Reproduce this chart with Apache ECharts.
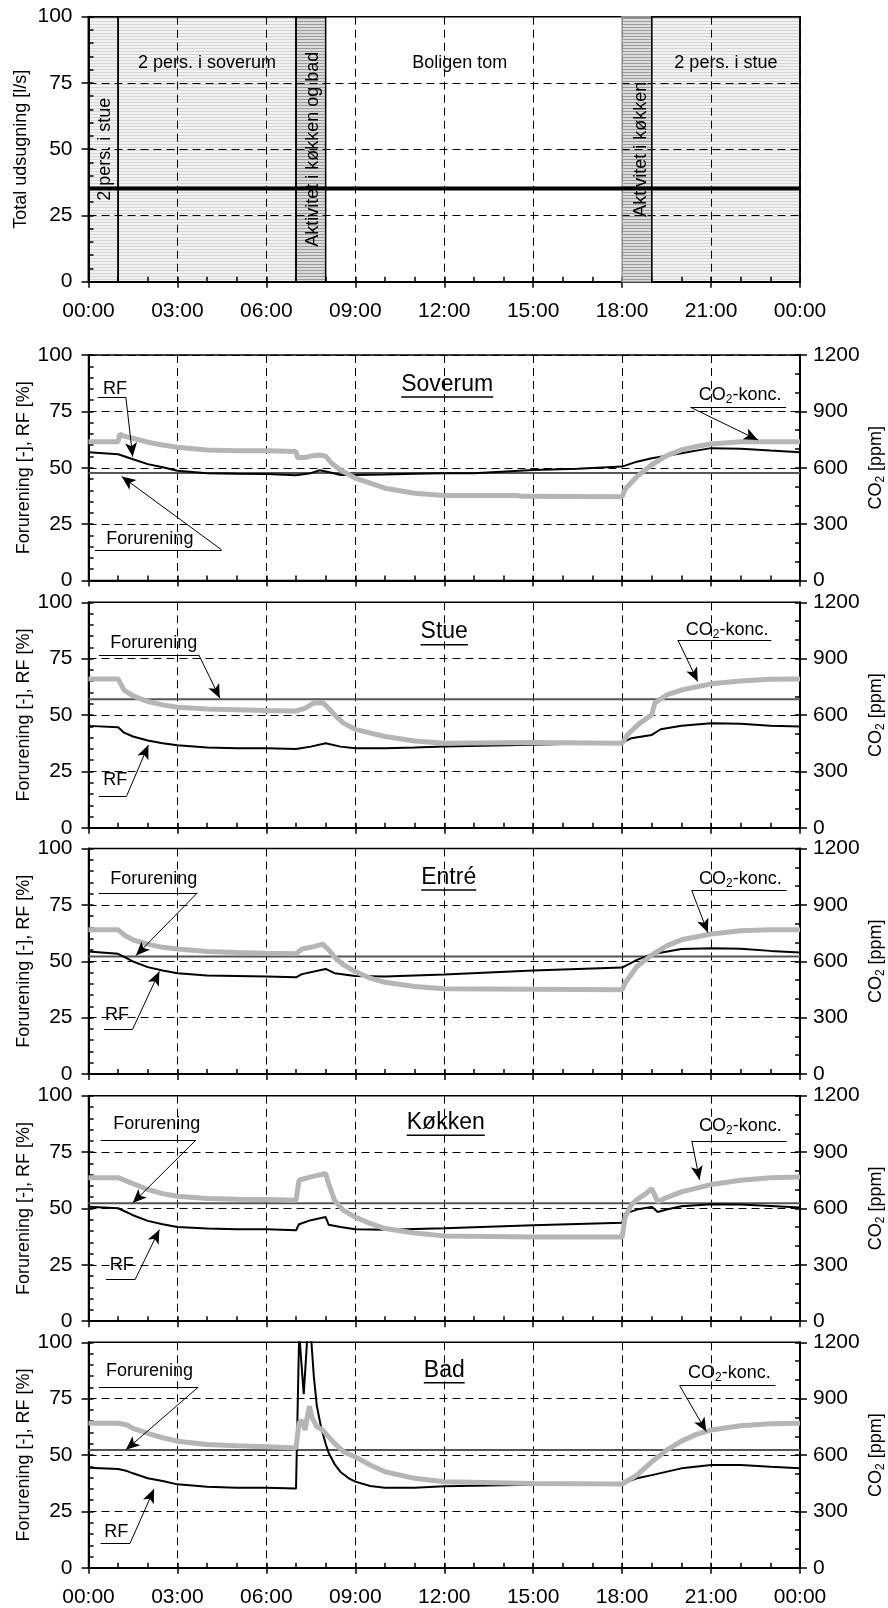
<!DOCTYPE html>
<html><head><meta charset="utf-8">
<script src="https://cdn.jsdelivr.net/npm/echarts@6/dist/echarts.min.js"></script>
<style>html,body{margin:0;padding:0;background:#fff}#c{width:888px;height:1608px}</style>
</head><body><div id="c"></div>
<script>
// ---------------- DATA ----------------
const periodStart = [0, 1, 7, 8, 18, 19];
const periodEnd   = [1, 7, 8, 18, 19, 24];
const periodShade = ['light', 'light', 'dark', 'none', 'dark', 'light'];
const periodText  = ['2 pers. i stue', '2 pers. i soverum', 'Aktivitet i køkken og bad', 'Boligen tom', 'Aktivitet i køkken', '2 pers. i stue'];
const udsugningHours  = [0, 24];
const udsugningValues = [35.2, 35.2];

const rooms = ['Soverum', 'Stue', 'Entré', 'Køkken', 'Bad'];
const forureningLevel = [47.7, 57.0, 52.1, 52.3, 52.2];

const rfSoverum = [[0,56.9],[1,56.0],[1.5,53.8],[2,51.6],[2.5,50.2],[3,48.7],[4,47.6],[5,47.3],[6,47.2],[7,46.7],[7.5,47.6],[7.8,48.9],[8.2,47.8],[8.5,46.8],[9,46.8],[10,47.0],[11,47.3],[12,47.6],[13,47.6],[15,49.0],[16.5,49.6],[18,50.5],[18.5,52.7],[19,54.2],[20,56.4],[20.5,57.6],[21,58.7],[22,58.4],[23,57.6],[24,56.9]];
const co2Soverum = [[0,739],[1,739],[1.05,779],[1.2,768],[1.5,757],[2,736],[2.5,721],[3,709],[4,695],[5,691],[6,690],[7,686],[7.05,654],[7.3,654],[7.5,662],[7.8,668],[8,662],[8.2,624],[8.5,588],[9,545],[9.5,518],[10,491],[11,464],[12,452],[14.5,452],[14.6,448],[18,446],[18.1,486],[18.5,553],[19,616],[19.5,664],[20,695],[20.5,713],[21,727],[22,738],[23,739],[24,739]];

const rfStue = [[0,45.2],[1,44.6],[1.2,42.2],[1.5,40.5],[2,38.7],[2.5,37.5],[3,36.6],[4,35.6],[5,35.3],[6,35.3],[7,34.9],[7.5,36.0],[8,37.5],[8.5,36.0],[9,35.3],[10,35.3],[11,35.6],[12,36.0],[15,36.8],[18,37.8],[18.3,39.7],[19,41.2],[19.3,43.7],[20,45.3],[21,46.4],[22,46.1],[23,45.3],[24,44.9]];
const co2Stue = [[0,792],[1,792],[1.2,733],[1.5,702],[2,672],[2.5,654],[3,642],[4,632],[5,628],[6,624],[7,622],[7.3,636],[7.6,664],[7.9,666],[8.1,636],[8.3,601],[8.6,557],[9,524],[10,486],[11,462],[12,450],[15,454],[18,450],[18.2,499],[18.6,557],[19,601],[19.1,664],[19.5,707],[20,733],[21,766],[22,781],[23,791],[24,792]];

const rfEntre = [[0,54.3],[1,53.3],[1.5,49.9],[2,47.4],[2.5,45.9],[3,44.7],[4,43.7],[5,43.5],[6,43.2],[7,42.9],[7.2,44.3],[8,46.6],[8.3,44.7],[9,43.5],[10,43.2],[11,43.7],[12,44.1],[15,45.9],[18,47.2],[18.5,50.6],[19,53.1],[20,55.4],[21,55.8],[22,55.5],[23,54.6],[24,53.9]];
const co2Entre = [[0,767],[1,767],[1.2,740],[1.5,714],[2,691],[2.5,674],[3,665],[4,652],[5,647],[6,643],[7,640],[7.2,665],[7.6,678],[7.9,691],[8.1,661],[8.3,622],[8.6,581],[9,545],[9.5,510],[10,488],[11,466],[12,454],[15,451],[18,448],[18.1,484],[18.5,572],[19,634],[19.5,682],[20,714],[21,745],[22,762],[23,767],[24,767]];

const rfKokken = [[0,50.8],[1,50.1],[1.5,47.0],[2,44.5],[2.5,43.0],[3,41.8],[4,41.1],[5,40.8],[6,40.8],[7,40.3],[7.1,43.0],[7.5,44.8],[8,46.2],[8.1,42.8],[8.5,41.8],[9,40.8],[10,40.6],[12,41.2],[15,42.5],[18,43.7],[18.1,47.7],[18.5,49.5],[19,50.7],[19.2,48.4],[19.5,49.5],[20,51.0],[21,51.9],[22,51.8],[23,51.1],[24,50.4]];
const co2Kokken = [[0,764],[1,764],[1.5,732],[2,701],[2.5,679],[3,665],[4,653],[5,649],[6,647],[7,643],[7.1,750],[7.5,768],[8,786],[8.1,732],[8.3,643],[8.6,590],[9,554],[9.5,520],[10,493],[11,469],[12,454],[15,448],[18,448],[18.1,554],[18.3,617],[18.5,647],[18.8,679],[19,706],[19.2,635],[19.5,658],[20,688],[21,727],[22,750],[23,763],[24,768]];

const rfBad = [[0,44.4],[1,43.8],[1.3,42.9],[1.5,41.9],[2,39.7],[2.5,38.5],[3,37.0],[4,35.9],[5,35.5],[6,35.5],[7,35.2],[7.1,100],[7.115,108],[7.13,100],[7.26,77],[7.37,100],[7.44,115],[7.52,100],[7.6,85],[7.7,72],[7.85,62],[8,55],[8.1,51],[8.3,46],[8.5,42.5],[8.8,39.5],[9,38.2],[9.5,36.3],[10,35.5],[11,35.5],[12,36.2],[15,36.8],[18,37.4],[18.5,39.7],[19,41.1],[20,44.1],[21,45.6],[22,45.6],[23,44.8],[24,44.1]];
const co2Bad = [[0,769],[1,769],[1.3,760],[1.5,742],[2,715],[2.5,692],[3,674],[4,656],[5,649],[6,644],[7,638],[7.1,769],[7.2,786],[7.3,733],[7.45,860],[7.55,796],[7.7,751],[7.9,733],[8.1,697],[8.3,662],[8.6,618],[9,590],[9.5,547],[10,511],[11,476],[12,458],[15,449],[18,446],[18.5,493],[19,564],[19.5,626],[20,674],[20.5,710],[21,733],[22,756],[23,766],[24,769]];

const rfSeries  = [rfSoverum, rfStue, rfEntre, rfKokken, rfBad];
const co2Series = [co2Soverum, co2Stue, co2Entre, co2Kokken, co2Bad];

// ---------------- LAYOUT / ANNOTATIONS ----------------
const FONT = '"Liberation Sans", Arial, sans-serif';
const PLOT_LEFT = 88.5, PLOT_W = 711.5;
const TOP_GRID = {top: 16.7, height: 265};
const panelTops = [355, 602.3, 848.5, 1095.7, 1342.3];
const PANEL_H = 225.5;

const periodLabelX = [0.55, 4.0, 7.57, 12.52, 18.64, 21.5];
const periodLabelY = [50, 82.5, 50, 82.5, 50, 82.5];
const periodLabelRot = [90, 0, 90, 0, 90, 0];

const titleX = [12.1, 12.0, 12.15, 12.05, 12.0];
const titleY = [86.3, 86.1, 86.5, 87.3, 86.9];

const CO2TXT = '{n|CO}{sb|2}{n|-konc.}';
const annotations = [
  [ {t:'RF', tx:0.89, ty:84.8, u1:0.31, u2:1.26, uy:81.3, from:'r', ax:1.49, ay:54.9},
    {t:'Forurening', tx:2.07, ty:18.3, u1:0.22, u2:4.49, uy:13.6, from:'r', ax:1.12, ay:46.1},
    {t:CO2TXT, tx:21.98, ty:82.3, u1:20.31, u2:23.53, uy:76.8, from:'l', ax:22.58, ay:62.3} ],
  [ {t:'Forurening', tx:2.2, ty:82.1, u1:0.35, u2:3.72, uy:76.7, from:'r', ax:4.43, ay:57.5},
    {t:'RF', tx:0.9, ty:21.0, u1:0.35, u2:1.29, uy:14.2, from:'r', ax:2.02, ay:36.7},
    {t:CO2TXT, tx:21.54, ty:87.7, u1:19.88, u2:23.03, uy:83.3, from:'l', ax:20.55, ay:64.9} ],
  [ {t:'Forurening', tx:2.2, ty:86.4, u1:0.35, u2:3.67, uy:80.3, from:'r', ax:1.6, ay:52.5},
    {t:'RF', tx:0.96, ty:26.1, u1:0.52, u2:1.49, uy:19.9, from:'r', ax:2.39, ay:45.4},
    {t:CO2TXT, tx:21.99, ty:86.4, u1:20.35, u2:23.55, uy:81.3, from:'l', ax:20.89, ay:62.7} ],
  [ {t:'Forurening', tx:2.3, ty:87.4, u1:0.41, u2:3.62, uy:80.3, from:'r', ax:1.49, ay:52.4},
    {t:'RF', tx:1.12, ty:25.1, u1:0.59, u2:1.57, uy:18.4, from:'r', ax:2.39, ay:40.6},
    {t:CO2TXT, tx:21.99, ty:86.5, u1:20.35, u2:23.55, uy:80.0, from:'l', ax:20.61, ay:62.7} ],
  [ {t:'Forurening', tx:2.06, ty:87.3, u1:0.35, u2:3.70, uy:80.1, from:'r', ax:1.26, ay:52.3},
    {t:'RF', tx:0.94, ty:16.0, u1:0.41, u2:1.40, uy:10.8, from:'r', ax:2.21, ay:34.9},
    {t:CO2TXT, tx:21.62, ty:86.5, u1:19.94, u2:23.17, uy:80.8, from:'l', ax:20.84, ay:60.4} ]
];

// ---------------- HELPERS ----------------
const mctx = document.createElement('canvas').getContext('2d');
function textW(s, size) { mctx.font = size + 'px "Liberation Sans"'; return mctx.measureText(s).width; }
function hatch(a, b) {
  const c = document.createElement('canvas'); c.width = 4; c.height = 3;
  const g = c.getContext('2d');
  g.fillStyle = 'rgba(0,0,0,' + b + ')'; g.fillRect(0, 0, 4, 3);
  g.fillStyle = 'rgba(0,0,0,' + a + ')'; g.fillRect(0, 0, 4, 1);
  return {image: c, repeat: 'repeat'};
}
const shades = {light: hatch(0.12, 0.05), dark: hatch(0.30, 0.14), none: 'rgba(0,0,0,0)'};
function fmtHour(v) { return String(Math.round(v) % 24).padStart(2, '0') + ':00'; }
function fmtPlain(v) { return String(v); }

const tickStyle = {color: '#000', width: 1.5};
const dashGrid = {show: true, lineStyle: {color: '#000', width: 1, type: [8, 5]}};
const richBase = {
  n: {fontSize: 18, fontFamily: FONT, color: '#000'},
  sb: {fontSize: 12, fontFamily: FONT, color: '#000', padding: [9, 0, 0, 0]}
};

const grids = [], xAxes = [], yAxes = [], series = [];

function addGrid(top, height) {
  grids.push({left: PLOT_LEFT, top: top, width: PLOT_W, height: height, show: true,
    borderColor: '#000', borderWidth: 1.5, backgroundColor: 'transparent', containLabel: false, outerBoundsMode: 'none'});
  return grids.length - 1;
}
function addX(g, showLabel) {
  const i = xAxes.length;
  xAxes.push({type: 'value', gridIndex: g, min: 0, max: 24, interval: 3, position: 'bottom',
    axisLine: {show: true, onZero: false, lineStyle: {color: '#000', width: 2}},
    axisTick: {show: true, inside: false, length: 6, lineStyle: tickStyle},
    axisLabel: {show: showLabel, margin: 19, fontSize: 21, color: '#000', fontFamily: FONT, formatter: fmtHour,
      showMinLabel: true, showMaxLabel: true, hideOverlap: false},
    splitLine: dashGrid});
  xAxes.push({type: 'value', gridIndex: g, min: 0, max: 24, interval: 1, position: 'bottom',
    axisLine: {show: false, onZero: false}, axisTick: {show: true, inside: true, length: 5, lineStyle: tickStyle},
    axisLabel: {show: false}, splitLine: {show: false}});
  return i;
}
function addYLeft(g, name, gap) {
  const i = yAxes.length;
  yAxes.push({type: 'value', gridIndex: g, min: 0, max: 100, interval: 25, position: 'left',
    name: name, nameLocation: 'middle', nameGap: gap, nameRotate: 90, nameMoveOverlap: false,
    nameTextStyle: {fontSize: 18, color: '#000', fontFamily: FONT},
    axisLine: {show: true, onZero: false, lineStyle: {color: '#000', width: 2}},
    axisTick: {show: true, inside: false, length: 7, lineStyle: tickStyle},
    axisLabel: {show: true, margin: 16, fontSize: 21, color: '#000', fontFamily: FONT, formatter: fmtPlain,
      showMinLabel: true, showMaxLabel: true, hideOverlap: false},
    splitLine: dashGrid});
  yAxes.push({type: 'value', gridIndex: g, min: 0, max: 100, interval: 5, position: 'left',
    axisLine: {show: false, onZero: false}, axisTick: {show: true, inside: true, length: 5, lineStyle: tickStyle},
    axisLabel: {show: false}, splitLine: {show: false}});
  return i;
}
function addYRight(g) {
  const i = yAxes.length;
  yAxes.push({type: 'value', gridIndex: g, min: 0, max: 1200, interval: 300, position: 'right',
    name: '{n|CO}{sb|2}{n| [ppm]}', nameLocation: 'middle', nameGap: 66, nameRotate: 90, nameMoveOverlap: false,
    nameTextStyle: {fontSize: 18, color: '#000', fontFamily: FONT, rich: richBase},
    axisLine: {show: true, onZero: false, lineStyle: {color: '#000', width: 2}},
    axisTick: {show: true, inside: false, length: 7, lineStyle: tickStyle},
    axisLabel: {show: true, margin: 13, fontSize: 21, color: '#000', fontFamily: FONT, formatter: fmtPlain,
      showMinLabel: true, showMaxLabel: true, hideOverlap: false},
    splitLine: {show: false}});
  yAxes.push({type: 'value', gridIndex: g, min: 0, max: 1200, interval: 100, position: 'right',
    axisLine: {show: false, onZero: false}, axisTick: {show: true, inside: true, length: 5, lineStyle: tickStyle},
    axisLabel: {show: false}, splitLine: {show: false}});
  return i;
}
function textSeries(xi, yi, items) {
  return {type: 'scatter', xAxisIndex: xi, yAxisIndex: yi, symbol: 'circle', symbolSize: 1,
    itemStyle: {color: 'rgba(0,0,0,0)', opacity: 1}, silent: true, z: 10, emphasis: {disabled: true}, animation: false,
    label: {show: true, position: 'inside', formatter: p => p.data.txt, fontSize: 18, color: '#000', opacity: 1, fontFamily: FONT, rich: richBase},
    data: items};
}

// ---------------- TOP CHART ----------------
{
  const g = addGrid(TOP_GRID.top, TOP_GRID.height);
  const xi = addX(g, true);
  const yi = addYLeft(g, 'Total udsugning [l/s]', 58.5);
  const areaData = periodStart.map((s, k) => [
    {xAxis: s, itemStyle: {color: shades[periodShade[k]],
      borderColor: periodShade[k] === 'none' ? 'rgba(0,0,0,0)' : (periodShade[k] === 'dark' && s === 18 ? '#999' : '#000'),
      borderWidth: periodShade[k] === 'none' ? 0 : 1.5}},
    {xAxis: periodEnd[k]}
  ]);
  series.push({type: 'line', xAxisIndex: xi, yAxisIndex: yi, symbol: 'none', z: 3, silent: true,
    data: udsugningHours.map((h, k) => [h, udsugningValues[k]]),
    lineStyle: {color: '#000', width: 4},
    markArea: {silent: true, label: {show: false}, emphasis: {disabled: true}, data: areaData}});
  series.push(textSeries(xi, yi, periodText.map((t, k) => ({
    value: [periodLabelX[k], periodLabelY[k]], txt: t, label: {rotate: periodLabelRot[k]}
  }))));
}

// ---------------- ROOM PANELS ----------------
rooms.forEach((room, p) => {
  const g = addGrid(panelTops[p], PANEL_H);
  const xi = addX(g, p === rooms.length - 1);
  const yl = addYLeft(g, 'Forurening [-], RF [%]', 55);
  const yr = addYRight(g);
  const f = forureningLevel[p];
  series.push({type: 'line', xAxisIndex: xi, yAxisIndex: yl, symbol: 'none', silent: true, z: 2,
    data: [[0, f], [24, f]], lineStyle: {color: '#555', width: 2}});
  const ml = [];
  annotations[p].forEach(a => {
    ml.push([{coord: [a.u1, a.uy], symbol: 'none'}, {coord: [a.u2, a.uy], symbol: 'none'}]);
    const sx = a.from === 'l' ? a.u1 : a.u2;
    ml.push([{coord: [sx, a.uy], symbol: 'none'}, {coord: [a.ax, a.ay], symbol: 'arrow', symbolSize: [9, 14]}]);
  });
  series.push({type: 'line', xAxisIndex: xi, yAxisIndex: yl, symbol: 'none', silent: true, z: 3,
    data: rfSeries[p], lineStyle: {color: '#000', width: 2},
    markLine: {silent: true, animation: false, symbol: ['none', 'none'], label: {show: false},
      emphasis: {disabled: true}, lineStyle: {color: '#000', width: 1, type: 'solid'}, data: ml}});
  series.push({type: 'line', xAxisIndex: xi, yAxisIndex: yr, symbol: 'none', silent: true, z: 4,
    data: co2Series[p], lineStyle: {color: '#b5b5b5', width: 5}});
  const tw = textW(room, 23);
  const items = annotations[p].map(a => ({value: [a.tx, a.ty], txt: a.t}));
  items.push({value: [titleX[p], titleY[p]], txt: '{t|' + room + '}\n{u|}',
    label: {rich: {t: {fontSize: 23, fontFamily: FONT, color: '#000', lineHeight: 22},
                   u: {width: tw, height: 1.5, lineHeight: 3, backgroundColor: '#000'}}}});
  series.push(textSeries(xi, yl, items));
});

const chart = echarts.init(document.getElementById('c'), null, {renderer: 'canvas', width: 888, height: 1608});
chart.setOption({
  animation: false,
  backgroundColor: '#fff',
  textStyle: {fontFamily: FONT},
  grid: grids, xAxis: xAxes, yAxis: yAxes, series: series
});
</script></body></html>
